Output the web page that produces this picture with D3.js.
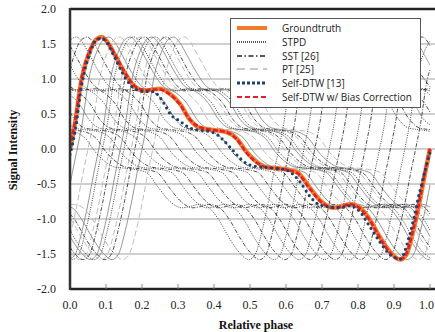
<!DOCTYPE html>
<html><head><meta charset="utf-8">
<script src="https://cdn.jsdelivr.net/npm/d3@7"></script>
<style>body{margin:0;background:#fff}</style>
</head><body>
<svg id="c" width="435" height="332"></svg>
<script>
// ---- data ----
const gtPhase =     [0, 0.014, 0.032, 0.056, 0.072, 0.088, 0.105, 0.125, 0.153, 0.18, 0.208, 0.23, 0.25, 0.272, 0.305, 0.333, 0.361, 0.40, 0.435, 0.463, 0.49, 0.52, 0.546, 0.583, 0.63, 0.667, 0.694, 0.731, 0.755, 0.778, 0.806, 0.833, 0.861, 0.889, 0.917, 0.935, 0.952, 0.972, 0.986, 1.0];
const groundtruth = [0.0, 0.37, 0.99, 1.41, 1.56, 1.60, 1.52, 1.34, 1.08, 0.89, 0.83, 0.85, 0.86, 0.81, 0.65, 0.42, 0.30, 0.27, 0.24, 0.15, -0.04, -0.19, -0.26, -0.28, -0.33, -0.56, -0.73, -0.84, -0.82, -0.79, -0.84, -1.01, -1.26, -1.47, -1.58, -1.50, -1.20, -0.73, -0.35, 0.0];
const biasCorrected=[0.02, 0.40, 1.01, 1.42, 1.56, 1.59, 1.52, 1.35, 1.09, 0.90, 0.84, 0.85, 0.85, 0.80, 0.64, 0.42, 0.31, 0.27, 0.24, 0.14, -0.05, -0.20, -0.26, -0.28, -0.34, -0.57, -0.74, -0.84, -0.82, -0.79, -0.85, -1.02, -1.27, -1.48, -1.58, -1.49, -1.18, -0.71, -0.33, 0.02];
const selfDtwPhase = [0, 0.014, 0.032, 0.056, 0.072, 0.088, 0.105, 0.125, 0.153, 0.18, 0.208, 0.23, 0.255, 0.28, 0.305, 0.333, 0.40, 0.444, 0.47, 0.5, 0.556, 0.60, 0.639, 0.667, 0.694, 0.75, 0.778, 0.806, 0.833, 0.861, 0.889, 0.917, 0.944, 0.972, 1.0];
const selfDtw =      [-0.08, 0.25, 0.90, 1.38, 1.55, 1.58, 1.50, 1.30, 1.02, 0.86, 0.82, 0.82, 0.70, 0.49, 0.40, 0.30, 0.23, 0.03, -0.12, -0.23, -0.27, -0.30, -0.47, -0.68, -0.80, -0.84, -0.81, -0.90, -1.11, -1.33, -1.51, -1.57, -1.22, -0.60, -0.05];
// phase offsets of the comparison estimates
const stpdShifts = [-0.42, -0.35, -0.28, -0.21, -0.14, -0.07, 0.09, 0.15];
const sstShifts  = [-0.39, -0.32, -0.25, -0.18, -0.11, -0.04, 0.12, 0.18];
const ptShifts   = [0.02, 0.05, 0.08, 0.11, 0.14, 0.17, 0.20, 0.23];
const xTicks = [0,0.1,0.2,0.3,0.4,0.5,0.6,0.7,0.8,0.9,1.0];
const yTicks = [-2,-1.5,-1,-0.5,0,0.5,1,1.5,2];
const legendLabels = ["Groundtruth","STPD","SST [26]","PT [25]","Self-DTW [13]","Self-DTW w/ Bias Correction"];

// ---- drawing ----
const svg = d3.select("#c");
const x = d3.scaleLinear().domain([0,1]).range([70,430]);
const y = d3.scaleLinear().domain([-2,2]).range([289,9]);
const R = 435;

svg.append("defs").append("clipPath").attr("id","clip")
  .append("rect").attr("x",70).attr("y",9).attr("width",R-70).attr("height",280);

// gridlines
svg.append("g").selectAll("line").data(yTicks.filter(v=>v>-2&&v<2)).join("line")
  .attr("x1",70).attr("x2",R).attr("y1",d=>y(d)).attr("y2",d=>y(d))
  .attr("stroke","#a0a0a0").attr("stroke-width",1);

function interpGt(p){
  p=((p%1)+1)%1;
  let i=d3.bisectRight(gtPhase,p)-1;
  if(i>=gtPhase.length-1) i=gtPhase.length-2;
  const t=(p-gtPhase[i])/(gtPhase[i+1]-gtPhase[i]);
  return groundtruth[i]+t*(groundtruth[i+1]-groundtruth[i]);
}
function shifted(s){
  const pts=[];
  for(let i=0;i<gtPhase.length-1;i++){
    const p=((gtPhase[i]+s)%1+1)%1;
    if(p>0.002 && p<0.998) pts.push([p,groundtruth[i]]);
  }
  const v0=interpGt(-s);
  pts.push([0,v0]); pts.push([1,v0]);
  pts.sort((a,b)=>a[0]-b[0]);
  return pts;
}
const line = d3.line().x(d=>x(d[0])).y(d=>y(d[1])).curve(d3.curveMonotoneX);
const plot = svg.append("g").attr("clip-path","url(#clip)");

plot.selectAll(".pt").data(ptShifts).join("path").attr("class","pt")
  .attr("d",s=>line(shifted(s))).attr("fill","none")
  .attr("stroke",(d,i)=>i%2?"#b5b5b5":"#8a8a8a").attr("stroke-width",0.9)
  .attr("stroke-dasharray",(d,i)=>i%2?"6,3":null);
plot.selectAll(".stpd").data(stpdShifts).join("path").attr("class","stpd")
  .attr("d",s=>line(shifted(s))).attr("fill","none")
  .attr("stroke","#333").attr("stroke-width",0.9).attr("stroke-dasharray","1,1.3");
plot.selectAll(".sst").data(sstShifts).join("path").attr("class","sst")
  .attr("d",s=>line(shifted(s))).attr("fill","none")
  .attr("stroke","#222").attr("stroke-width",0.8).attr("stroke-dasharray","4,1.5,1,1.5");

const gtPts = gtPhase.map((p,i)=>[p,groundtruth[i]]);
const bcPts = gtPhase.map((p,i)=>[p,biasCorrected[i]]);
const sdPts = selfDtwPhase.map((p,i)=>[p,selfDtw[i]]);
plot.append("path").attr("d",line(gtPts)).attr("fill","none")
  .attr("stroke","#ef7d2e").attr("stroke-width",4.5);
plot.append("path").attr("d",line(bcPts)).attr("fill","none")
  .attr("stroke","#e3202a").attr("stroke-width",2.6).attr("stroke-dasharray","5,2");
plot.append("path").attr("d",line(sdPts)).attr("fill","none")
  .attr("stroke","#1f4170").attr("stroke-width",3.2).attr("stroke-linecap","round")
  .attr("stroke-dasharray","0,5.5");

// frame
svg.append("line").attr("x1",70).attr("x2",R).attr("y1",9).attr("y2",9).attr("stroke","#222").attr("stroke-width",2.5);
svg.append("line").attr("x1",70).attr("x2",R).attr("y1",289).attr("y2",289).attr("stroke","#222").attr("stroke-width",2.5);
svg.append("line").attr("x1",70).attr("x2",70).attr("y1",8).attr("y2",290).attr("stroke","#333").attr("stroke-width",2.5);

// x ticks (inside)
svg.append("g").selectAll("line").data(xTicks.slice(1)).join("line")
  .attr("x1",d=>x(d)).attr("x2",d=>x(d)).attr("y1",289).attr("y2",284)
  .attr("stroke","#888").attr("stroke-width",1);

const serif = "'Liberation Serif','Times New Roman',serif";
svg.append("g").selectAll("text").data(xTicks).join("text")
  .attr("x",d=>d===1?434:x(d)).attr("y",309).attr("text-anchor",d=>d===1?"end":"middle")
  .attr("font-family",serif).attr("font-size",12).attr("fill","#222")
  .text(d=>d.toFixed(1));
svg.append("g").selectAll("text").data(yTicks).join("text")
  .attr("x",56).attr("y",d=>y(d)+4).attr("text-anchor","end")
  .attr("font-family",serif).attr("font-size",12).attr("fill","#222")
  .text(d=>d.toFixed(1));
svg.append("text").attr("x",256).attr("y",329).attr("text-anchor","middle")
  .attr("font-family",serif).attr("font-size",12).attr("font-weight","bold").attr("fill","#111")
  .text("Relative phase");
svg.append("text").attr("transform","translate(17,150) rotate(-90)").attr("text-anchor","middle")
  .attr("font-family",serif).attr("font-size",12).attr("font-weight","bold").attr("fill","#111")
  .text("Signal Intensity");

// legend
const lg = svg.append("g");
lg.append("rect").attr("x",230.5).attr("y",18.5).attr("width",190).attr("height",89)
  .attr("fill","#fff").attr("stroke","#555").attr("stroke-width",1);
const styles = [
  {c:"#ef7d2e",w:4,d:null},
  {c:"#222",w:1.3,d:"1,1"},
  {c:"#222",w:1.4,d:"5,2.5,1.5,2.5"},
  {c:"#b5b5b5",w:1.4,d:"8,5"},
  {c:"#1f4170",w:3,d:"3,2"},
  {c:"#e3202a",w:2,d:"5,3"}
];
const rowsY = [28,42,56,69,83,97];
legendLabels.forEach((lab,i)=>{
  lg.append("line").attr("x1",237).attr("x2",267).attr("y1",rowsY[i]).attr("y2",rowsY[i])
    .attr("stroke",styles[i].c).attr("stroke-width",styles[i].w).attr("stroke-dasharray",styles[i].d);
  lg.append("text").attr("x",282).attr("y",rowsY[i]+4).attr("font-family","'Open Sans',sans-serif")
    .attr("font-size",10).attr("fill","#222").text(lab);
});
</script>
</body></html>
